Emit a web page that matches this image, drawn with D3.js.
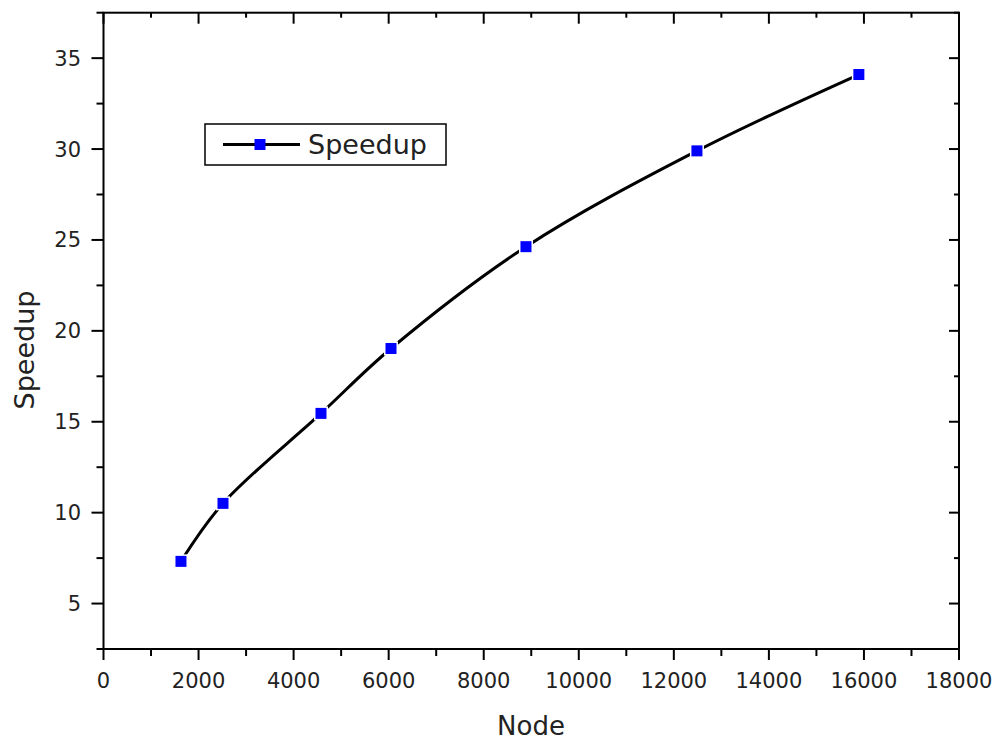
<!DOCTYPE html>
<html>
<head>
<meta charset="utf-8">
<script src="https://cdn.jsdelivr.net/npm/d3@7"></script>
<style>
  body { margin: 0; background: #fff; }
  svg { display: block; }
  text { font-family: "DejaVu Sans", sans-serif; fill: #222; }
</style>
</head>
<body>
<svg width="999" height="740"></svg>
<script>
// data
const nodes = [1630, 2514, 4576, 6049, 8889, 12486, 15893];
const speedup = [7.32, 10.51, 15.46, 19.03, 24.63, 29.9, 34.1];
const xTicks = [0, 2000, 4000, 6000, 8000, 10000, 12000, 14000, 16000, 18000];
const yTicks = [5, 10, 15, 20, 25, 30, 35];
const seriesName = "Speedup";

const svg = d3.select("svg");
const pLeft = 103.5, pRight = 959, pTop = 12.7, pBottom = 649;

const x = d3.scaleLinear().domain([0, 18000]).range([pLeft, pRight]);
const y = d3.scaleLinear().domain([2.5, 37.5]).range([pBottom, pTop]);

const xMinor = d3.range(1000, 18000, 2000);
const yMinor = d3.range(2.5, 37.6, 5);

// frame
svg.append("rect")
  .attr("x", pLeft).attr("y", pTop)
  .attr("width", pRight - pLeft).attr("height", pBottom - pTop)
  .attr("fill", "none").attr("stroke", "#000").attr("stroke-width", 2);

// x ticks: outward at bottom, inward at top
const gx = svg.append("g").attr("stroke", "#000").attr("stroke-width", 2);
xTicks.forEach(t => {
  gx.append("line").attr("x1", x(t)).attr("x2", x(t)).attr("y1", pBottom).attr("y2", pBottom + 11);
  gx.append("line").attr("x1", x(t)).attr("x2", x(t)).attr("y1", pTop).attr("y2", pTop + 11);
});
xMinor.forEach(t => {
  gx.append("line").attr("x1", x(t)).attr("x2", x(t)).attr("y1", pBottom).attr("y2", pBottom + 7);
  gx.append("line").attr("x1", x(t)).attr("x2", x(t)).attr("y1", pTop).attr("y2", pTop + 5);
});

// y ticks: outward at left, inward at right
const gy = svg.append("g").attr("stroke", "#000").attr("stroke-width", 2);
yTicks.forEach(t => {
  gy.append("line").attr("x1", pLeft - 12).attr("x2", pLeft).attr("y1", y(t)).attr("y2", y(t));
  gy.append("line").attr("x1", pRight - 10).attr("x2", pRight).attr("y1", y(t)).attr("y2", y(t));
});
yMinor.forEach(t => {
  gy.append("line").attr("x1", pLeft - 7).attr("x2", pLeft).attr("y1", y(t)).attr("y2", y(t));
  gy.append("line").attr("x1", pRight - 5).attr("x2", pRight).attr("y1", y(t)).attr("y2", y(t));
});

// tick labels
svg.append("g").selectAll("text").data(xTicks).join("text")
  .attr("x", d => x(d)).attr("y", 688)
  .attr("text-anchor", "middle").attr("font-size", 21)
  .text(d => d);

svg.append("g").selectAll("text").data(yTicks).join("text")
  .attr("x", 81).attr("y", d => y(d) + 7.5)
  .attr("text-anchor", "end").attr("font-size", 21)
  .text(d => d);

// axis titles
svg.append("text")
  .attr("x", 531).attr("y", 735)
  .attr("text-anchor", "middle").attr("font-size", 26)
  .text("Node");

svg.append("text")
  .attr("transform", "translate(34,350) rotate(-90)")
  .attr("text-anchor", "middle").attr("font-size", 27)
  .text("Speedup");

// series
const pts = nodes.map((n, i) => [n, speedup[i]]);
const line = d3.line().x(d => x(d[0])).y(d => y(d[1])).curve(d3.curveCatmullRom.alpha(0.5));

svg.append("path")
  .attr("d", line(pts))
  .attr("fill", "none").attr("stroke", "#000").attr("stroke-width", 3);

const ms = 11;
svg.append("g").selectAll("rect").data(pts).join("rect")
  .attr("x", d => x(d[0]) - ms / 2).attr("y", d => y(d[1]) - ms / 2)
  .attr("width", ms).attr("height", ms)
  .attr("fill", "#0000ff")
  .attr("stroke", "#fff").attr("stroke-width", 3)
  .attr("paint-order", "stroke");

// legend
const lg = svg.append("g");
lg.append("rect")
  .attr("x", 205).attr("y", 124).attr("width", 241).attr("height", 41)
  .attr("fill", "#fff").attr("stroke", "#000").attr("stroke-width", 1.5);
lg.append("line")
  .attr("x1", 223).attr("x2", 300).attr("y1", 144.5).attr("y2", 144.5)
  .attr("stroke", "#000").attr("stroke-width", 3);
lg.append("rect")
  .attr("x", 260 - ms / 2).attr("y", 144.5 - ms / 2).attr("width", ms).attr("height", ms)
  .attr("fill", "#0000ff");
lg.append("text")
  .attr("x", 308).attr("y", 154).attr("font-size", 27)
  .text(seriesName);
</script>
</body>
</html>
